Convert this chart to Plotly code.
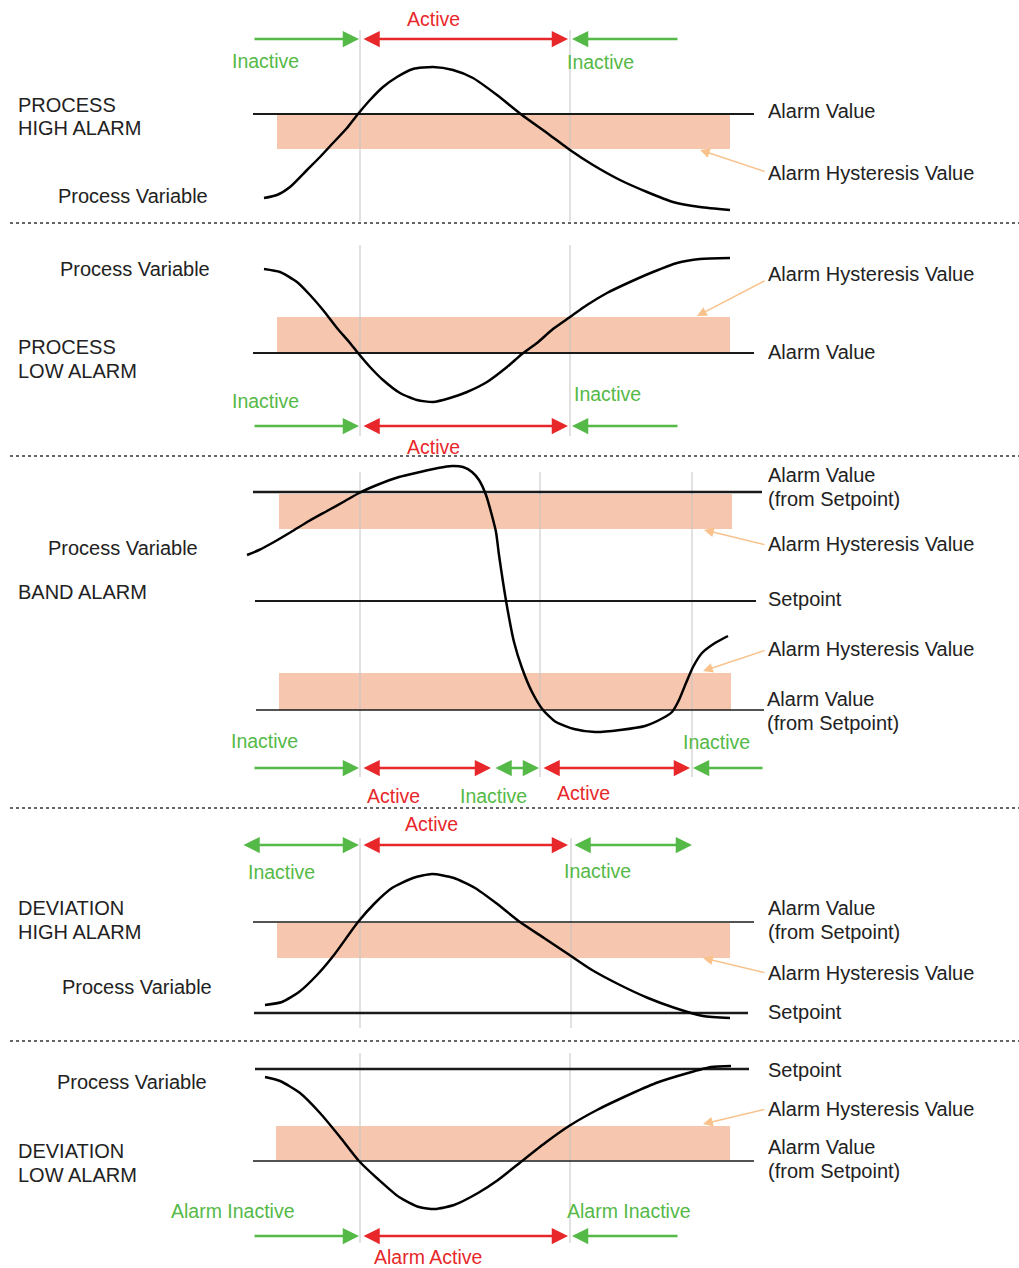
"""
Alarm types diagram: process high / low, band, deviation high / low.
Drawn on a pixel-sized canvas so every element sits where it does in the reference.
"""

import plotly.graph_objects as go

# ---------------------------------------------------------------------------
# Settings
# ---------------------------------------------------------------------------

WIDTH = 1019
HEIGHT = 1268

FONT_FAMILY = "Liberation Sans, Arial, sans-serif"
FONT_SIZE = 20

TEXT_COLOR = "#222222"
GREEN = "#55b947"
RED = "#e8272b"
BAND_COLOR = "#f6c6ae"
POINTER_COLOR = "#f9c28c"
GUIDE_COLOR = "#c4c4c4"

# ---------------------------------------------------------------------------
# Data: process variable curves (x, y in canvas pixels)
# ---------------------------------------------------------------------------

high_pv_x = [264, 277, 290, 307, 320, 333, 347, 358, 370, 383, 397, 413, 433, 453, 473, 497,
             522, 547, 570, 593, 620, 647, 673, 700, 730]
high_pv_y = [198, 195, 187, 170, 157, 143, 128, 114, 100, 87, 77, 69, 67, 70, 78, 95,
             115, 133, 150, 165, 180, 192, 202, 207, 210]

low_pv_x = [264, 280, 297, 310, 323, 337, 350, 358, 370, 383, 400, 417, 433, 450, 467, 487,
            507, 522, 537, 553, 570, 587, 607, 630, 653, 677, 700, 730]
low_pv_y = [269, 272, 282, 295, 310, 328, 343, 353, 367, 380, 393, 400, 402, 398, 392, 382,
            367, 354, 343, 329, 317, 305, 293, 282, 272, 263, 259, 258]

band_pv_x = [247, 259, 274, 291, 309, 327, 345, 359, 377, 399, 420, 438, 452, 463, 472, 479,
             486, 491, 496, 499, 503, 508, 514, 522, 532, 543, 556, 574, 595, 620, 645, 663,
             672, 679, 686, 693, 702, 715, 728]
band_pv_y = [555, 550, 542, 532, 521, 511, 501, 493, 485, 477, 472, 468, 466, 467, 472, 480,
             495, 512, 532, 555, 582, 612, 642, 668, 692, 710, 722, 729, 732, 730, 726, 718,
             712, 700, 683, 667, 653, 643, 636]

devhi_pv_x = [265, 282, 299, 317, 334, 358, 375, 392, 413, 432, 454, 475, 496, 520, 544, 568,
              592, 620, 648, 675, 703, 730]
devhi_pv_y = [1005, 1002, 992, 975, 955, 922, 903, 888, 878, 874, 878, 888, 903, 922, 938, 954,
              970, 985, 998, 1008, 1016, 1018]

devlo_pv_x = [265, 280, 300, 320, 340, 359, 379, 399, 419, 435, 454, 478, 498, 522, 545, 569,
              597, 624, 656, 688, 711, 731]
devlo_pv_y = [1077, 1081, 1093, 1113, 1137, 1161, 1180, 1197, 1207, 1209, 1205, 1193, 1180, 1161,
              1143, 1126, 1110, 1097, 1083, 1073, 1067, 1066]

# Reference lines: (y, x_start, x_end, width)
ref_lines = [
    (114, 253, 754, 2.0),    # process high: alarm value
    (353, 253, 754, 2.0),    # process low: alarm value
    (492, 253, 762, 2.5),    # band: upper alarm value
    (601, 255, 756, 2.0),    # band: setpoint
    (710, 256, 764, 1.5),    # band: lower alarm value
    (922, 253, 754, 1.5),    # deviation high: alarm value
    (1013, 254, 748, 2.5),   # deviation high: setpoint
    (1069, 255, 749, 2.5),   # deviation low: setpoint
    (1161, 253, 754, 1.5),   # deviation low: alarm value
]

# Hysteresis bands: (x0, x1, y_top, y_bottom)
hyst_bands = [
    (277, 730, 115, 149),
    (277, 730, 317, 353),
    (279, 732, 494, 529),
    (279, 731, 673, 710),
    (277, 730, 923, 958),
    (276, 730, 1126, 1160),
]

# Transition guides: (x, y_top, y_bottom)
guides = [
    (360, 30, 221), (570, 30, 221),
    (360, 245, 436), (570, 245, 436),
    (360, 472, 777), (540, 472, 777), (692, 472, 777),
    (360, 838, 1028), (571, 838, 1028),
    (360, 1053, 1243), (570, 1053, 1243),
]

# State arrows: (x_tail, x_head, y, colour, double-headed)
state_arrows = [
    (253, 359, 39, GREEN, False), (362, 568, 39, RED, True), (679, 572, 39, GREEN, False),
    (253, 359, 426, GREEN, False), (362, 568, 426, RED, True), (679, 572, 426, GREEN, False),
    (253, 359, 768, GREEN, False), (362, 491, 768, RED, True), (494, 539, 768, GREEN, True),
    (542, 690, 768, RED, True), (764, 693, 768, GREEN, False),
    (242, 359, 845, GREEN, True), (362, 568, 845, RED, True), (573, 692, 845, GREEN, True),
    (253, 359, 1236, GREEN, False), (362, 568, 1236, RED, True), (679, 572, 1236, GREEN, False),
]

# State labels: (text, x_centre, y, colour)
state_labels = [
    ("Active", 433, 19, RED), ("Inactive", 265, 61, GREEN), ("Inactive", 600, 62, GREEN),
    ("Inactive", 265, 401, GREEN), ("Inactive", 607, 394, GREEN), ("Active", 433, 447, RED),
    ("Inactive", 264, 741, GREEN), ("Inactive", 716, 742, GREEN), ("Active", 393, 796, RED),
    ("Inactive", 493, 796, GREEN), ("Active", 583, 793, RED),
    ("Active", 431, 824, RED), ("Inactive", 281, 872, GREEN), ("Inactive", 597, 871, GREEN),
    ("Alarm Inactive", 233, 1211, GREEN), ("Alarm Inactive", 629, 1211, GREEN),
    ("Alarm Active", 428, 1257, RED),
]

# Black labels, left aligned: (text, x_left, y)
text_labels = [
    ("PROCESS", 16, 105), ("HIGH ALARM", 16, 128), ("Process Variable", 56, 196),
    ("Alarm Value", 766, 111), ("Alarm Hysteresis Value", 766, 173),
    ("Process Variable", 58, 269), ("PROCESS", 16, 347), ("LOW ALARM", 16, 371),
    ("Alarm Hysteresis Value", 766, 274), ("Alarm Value", 766, 352),
    ("Process Variable", 46, 548), ("BAND ALARM", 16, 592),
    ("Alarm Value", 766, 475), ("(from Setpoint)", 766, 499),
    ("Alarm Hysteresis Value", 766, 544),
    ("Setpoint", 766, 599), ("Alarm Hysteresis Value", 766, 649),
    ("Alarm Value", 765, 699), ("(from Setpoint)", 765, 723),
    ("DEVIATION", 16, 908), ("HIGH ALARM", 16, 932), ("Process Variable", 60, 987),
    ("Alarm Value", 766, 908), ("(from Setpoint)", 766, 932),
    ("Alarm Hysteresis Value", 766, 973), ("Setpoint", 766, 1012),
    ("Process Variable", 55, 1082), ("DEVIATION", 16, 1151), ("LOW ALARM", 16, 1175),
    ("Setpoint", 766, 1070), ("Alarm Hysteresis Value", 766, 1109),
    ("Alarm Value", 766, 1147), ("(from Setpoint)", 766, 1171),
]

# Hysteresis pointers: (x_tail, y_tail, x_head, y_head)
pointers = [
    (766, 172, 700, 150),
    (766, 280, 697, 316),
    (766, 545, 704, 530),
    (766, 650, 703, 671),
    (766, 973, 703, 958),
    (766, 1109, 703, 1124),
]

# Dotted panel separators (y)
separators = [223, 456, 808, 1041]

# ---------------------------------------------------------------------------
# Build figure
# ---------------------------------------------------------------------------

fig = go.Figure()

for x0, x1, y0, y1 in hyst_bands:
    fig.add_shape(type="rect", x0=x0, x1=x1, y0=y0, y1=y1,
                  fillcolor=BAND_COLOR, line=dict(width=0), layer="below")

for x, y0, y1 in guides:
    fig.add_trace(go.Scatter(x=[x, x], y=[y0, y1], mode="lines",
                             line=dict(color=GUIDE_COLOR, width=1), hoverinfo="skip"))

for y, x0, x1, w in ref_lines:
    fig.add_trace(go.Scatter(x=[x0, x1], y=[y, y], mode="lines",
                             line=dict(color="#1a1a1a", width=w), hoverinfo="skip"))

for y in separators:
    fig.add_trace(go.Scatter(x=[10, 1019], y=[y, y], mode="lines",
                             line=dict(color="#333333", width=1.5, dash="dot"),
                             hoverinfo="skip"))

for xs, ys in [(high_pv_x, high_pv_y), (low_pv_x, low_pv_y), (band_pv_x, band_pv_y),
               (devhi_pv_x, devhi_pv_y), (devlo_pv_x, devlo_pv_y)]:
    fig.add_trace(go.Scatter(x=xs, y=ys, mode="lines",
                             line=dict(color="black", width=2.5, shape="spline", smoothing=0.6),
                             hoverinfo="skip"))

for xt, xh, y, col, both in state_arrows:
    fig.add_annotation(
        x=xh, y=y, ax=xt, ay=y, xref="x", yref="y", axref="x", ayref="y",
        text="", showarrow=True,
        arrowhead=2, startarrowhead=2, arrowsize=1.3, startarrowsize=1.3,
        arrowwidth=2.5, arrowcolor=col,
        arrowside="end+start" if both else "end",
    )

for xt, yt, xh, yh in pointers:
    fig.add_annotation(
        x=xh, y=yh, ax=xt, ay=yt, xref="x", yref="y", axref="x", ayref="y",
        text="", showarrow=True, arrowhead=2, arrowsize=1.3, arrowwidth=1.5,
        arrowcolor=POINTER_COLOR,
    )

for text, x, y, col in state_labels:
    fig.add_annotation(x=x, y=y, text=text, showarrow=False, xanchor="center",
                       yanchor="middle", font=dict(color=col, size=FONT_SIZE - 0.5))

for text, x, y in text_labels:
    fig.add_annotation(x=x, y=y, text=text, showarrow=False, xanchor="left",
                       yanchor="middle", align="left",
                       font=dict(color=TEXT_COLOR, size=FONT_SIZE))

fig.update_layout(
    width=WIDTH,
    height=HEIGHT,
    margin=dict(l=0, r=0, t=0, b=0),
    paper_bgcolor="white",
    plot_bgcolor="white",
    showlegend=False,
    font=dict(family=FONT_FAMILY, size=FONT_SIZE, color=TEXT_COLOR),
    xaxis=dict(range=[0, WIDTH], visible=False, fixedrange=True),
    yaxis=dict(range=[HEIGHT, 0], visible=False, fixedrange=True),
)

# the page's default body margin would shift the canvas by 8px
fig.write_html("out.html", config={"displayModeBar": False},
               post_script="document.body.style.margin='0px';")
